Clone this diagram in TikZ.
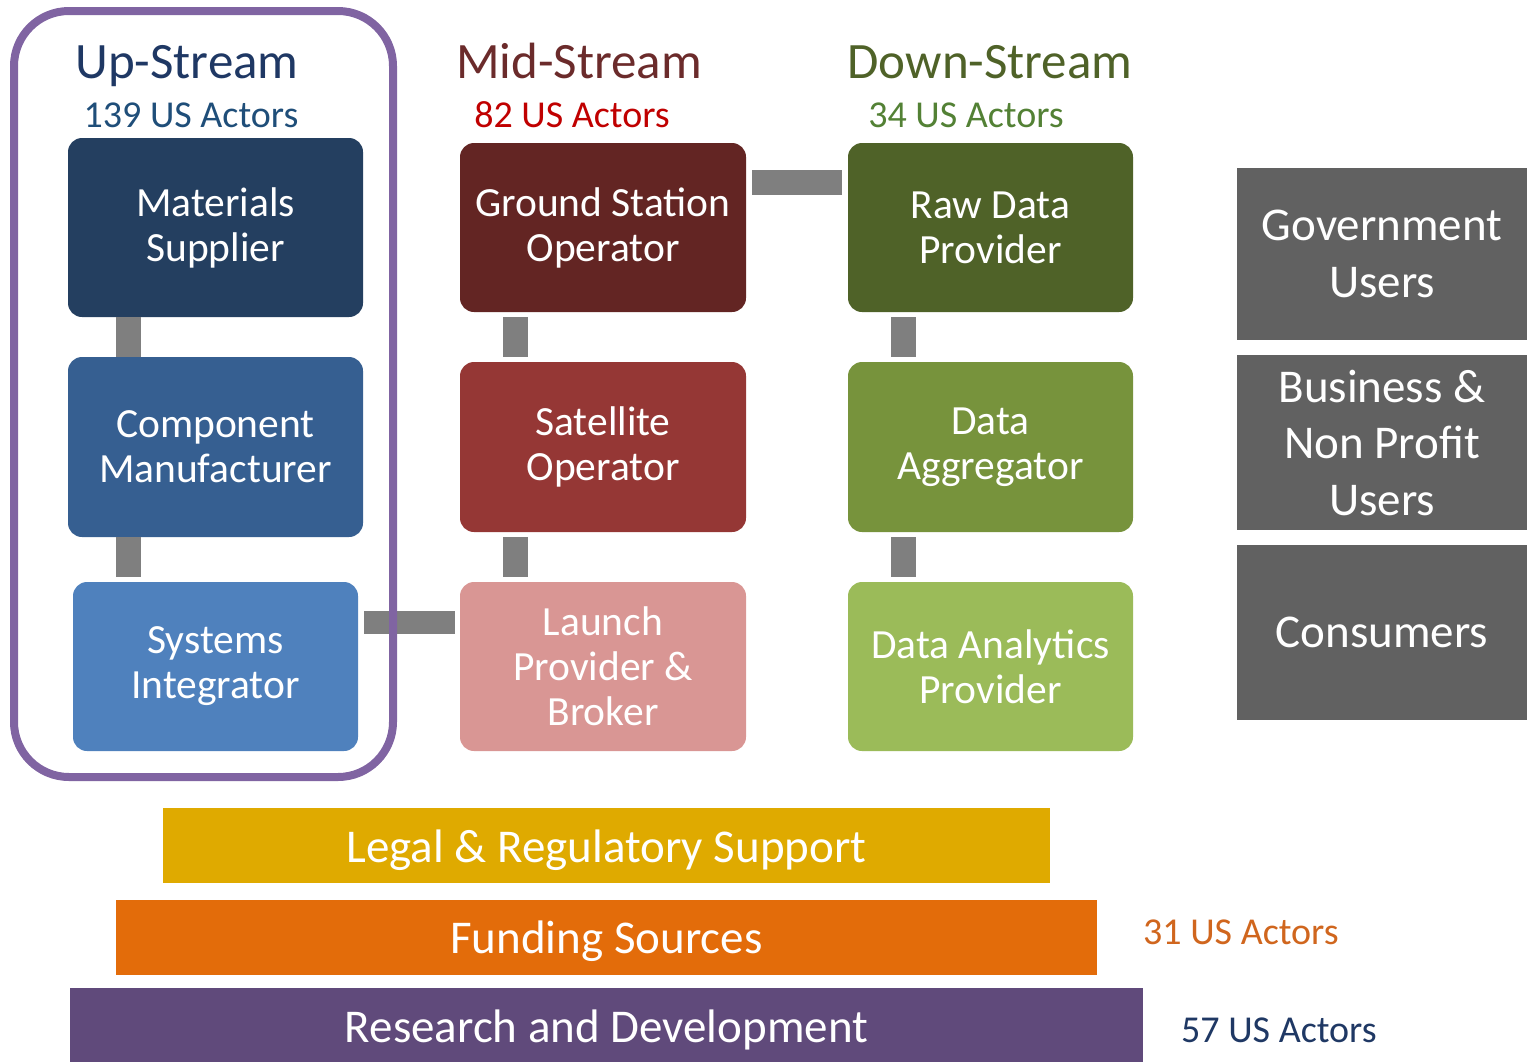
\documentclass[tikz,border=0pt]{standalone}
\usepackage{fontspec}
\setmainfont{Carlito}
\usetikzlibrary{calc}

% palette
\definecolor{upTitle}{HTML}{1F3864}
\definecolor{upSub}{HTML}{1F4E79}
\definecolor{midTitle}{HTML}{6B2B2B}
\definecolor{midSub}{HTML}{C00000}
\definecolor{downTitle}{HTML}{4F6228}
\definecolor{downSub}{HTML}{538135}
\definecolor{cMat}{HTML}{243F60}
\definecolor{cComp}{HTML}{365F91}
\definecolor{cSys}{HTML}{4F81BD}
\definecolor{cGround}{HTML}{632523}
\definecolor{cSat}{HTML}{953735}
\definecolor{cLaunch}{HTML}{D99694}
\definecolor{cRaw}{HTML}{4F6228}
\definecolor{cAgg}{HTML}{77933C}
\definecolor{cAnalytics}{HTML}{9BBB59}
\definecolor{cUser}{HTML}{616161}
\definecolor{cLink}{HTML}{7F7F7F}
\definecolor{cFrame}{HTML}{8064A2}
\definecolor{cLegal}{HTML}{DFAA00}
\definecolor{cFund}{HTML}{E36C0A}
\definecolor{cRD}{HTML}{604A7B}
\definecolor{fundSub}{HTML}{D0661E}
\definecolor{rdSub}{HTML}{1F3864}

\tikzset{
  title/.style={anchor=base, font=\fontsize{51}{56}\selectfont, inner sep=0pt},
  subtitle/.style={anchor=base, font=\fontsize{38}{42}\selectfont, inner sep=0pt},
  actor/.style={rounded corners=14pt, text=white, align=center, inner sep=0pt,
    font=\fontsize{41.5}{45}\selectfont},
  user/.style={text=white, align=center, inner sep=0pt, fill=cUser,
    font=\fontsize{47}{56.5}\selectfont},
  bar/.style={text=white, inner sep=0pt, font=\fontsize{47}{52}\selectfont},
  link/.style={draw=cLink, line width=25pt},
}
% places a bar label's baseline a given distance below the band's centre
\newcommand{\barlabel}[2]{\raisebox{-#1}[0pt][0pt]{#2}}

\begin{document}
\begin{tikzpicture}[x=1pt, y=-1pt]
\useasboundingbox (0,0) rectangle (1527,1061);

% column headings
\node[title, text=upTitle]   (hUp)   at (187,78)  {Up-Stream};
\node[subtitle, text=upSub]  (sUp)   at (191,127) {139 US Actors};
\node[title, text=midTitle]  (hMid)  at (579,78)  {Mid-Stream};
\node[subtitle, text=midSub] (sMid)  at (572,127) {82 US Actors};
\node[title, text=downTitle] (hDown) at (990,78)  {Down-Stream};
\node[subtitle, text=downSub](sDown) at (966,127) {34 US Actors};

% up-stream actors
\node[actor, fill=cMat,  minimum width=295pt, minimum height=179pt] (ms) at (215.5,227.5) {Materials\\Supplier};
\node[actor, fill=cComp, minimum width=295pt, minimum height=180pt] (cm) at (215.5,447)   {Component\\Manufacturer};
\node[actor, fill=cSys,  minimum width=285pt, minimum height=169pt] (si) at (215.5,666.5) {Systems\\Integrator};

% mid-stream actors
\node[actor, fill=cGround, minimum width=286pt, minimum height=169pt] (gs) at (603,227.5) {Ground Station\\Operator};
\node[actor, fill=cSat,    minimum width=286pt, minimum height=170pt] (so) at (603,447)   {Satellite\\Operator};
\node[actor, fill=cLaunch, minimum width=286pt, minimum height=169pt] (lp) at (603,666.5) {Launch\\Provider \&\\Broker};

% down-stream actors
\node[actor, fill=cRaw,       minimum width=285pt, minimum height=169pt] (rd) at (990.5,227.5) {Raw Data\\Provider};
\node[actor, fill=cAgg,       minimum width=285pt, minimum height=170pt] (da) at (990.5,447)   {Data\\Aggregator};
\node[actor, fill=cAnalytics, minimum width=285pt, minimum height=169pt] (dp) at (990.5,666.5) {Data Analytics\\Provider};

% end users
\node[user, minimum width=290pt, minimum height=172pt] (gov) at (1382,254)   {Government\\Users};
\node[user, minimum width=290pt, minimum height=175pt] (biz) at (1382,442.5) {Business \&\\Non Profit\\Users};
\node[user, minimum width=290pt, minimum height=175pt] (con) at (1382,632.5) {Consumers};

% links between actors
\draw[link] ([xshift=61pt]ms.south west) -- ([xshift=61pt]cm.north west);
\draw[link, shorten >=5pt] ([xshift=61pt]cm.south west) -- ([xshift=56pt]si.north west);
\draw[link, shorten <=5pt, shorten >=5pt] ([xshift=56pt]gs.south west) -- ([xshift=56pt]so.north west);
\draw[link, shorten <=5pt, shorten >=5pt] ([xshift=56pt]so.south west) -- ([xshift=56pt]lp.north west);
\draw[link, shorten <=5pt, shorten >=5pt] ([xshift=56pt]rd.south west) -- ([xshift=56pt]da.north west);
\draw[link, shorten <=5pt, shorten >=5pt] ([xshift=56pt]da.south west) -- ([xshift=56pt]dp.north west);
\draw[draw=cLink, line width=23pt, shorten <=6pt, shorten >=5pt] ([yshift=-40.5pt]si.north east) -- ([yshift=-40.5pt]lp.north west);
\draw[link, shorten <=6pt, shorten >=6pt] ([yshift=-39.5pt]gs.north east) -- ([yshift=-39.5pt]rd.north west);

% up-stream frame
\draw[draw=cFrame, line width=8pt, rounded corners=55pt] (14,11) rectangle (393,777);

% supporting layers
\node[bar, fill=cLegal, minimum width=887pt, minimum height=75pt]  (legal) at (606.5,845.5) {\barlabel{16.5pt}{Legal \& Regulatory Support}};
\node[bar, fill=cFund,  minimum width=981pt, minimum height=75pt]  (fund)  at (606.5,937.5) {\barlabel{15.5pt}{Funding Sources}};
\node[bar, fill=cRD,    minimum width=1073pt, minimum height=80pt] (rnd)   at (606.5,1028)  {\barlabel{14.5pt}{Research and Development}};

\node[subtitle, text=fundSub, anchor=base west] (sFund) at (1143,944) {31 US Actors};
\node[subtitle, text=rdSub,   anchor=base west] (sRD)   at (1181,1042) {57 US Actors};
\end{tikzpicture}
\end{document}
